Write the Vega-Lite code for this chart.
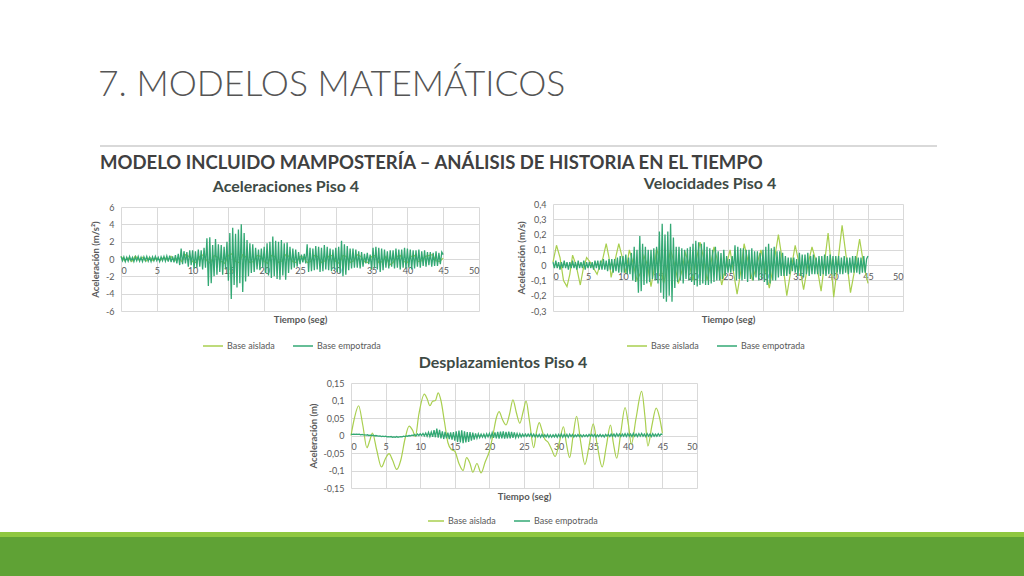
{
"$schema": "https://vega.github.io/schema/vega-lite/v6.json",
"padding": 0,
"background": "white",
"bounds": "flush",
"spacing": 0,
"resolve": {"scale": {"color": "independent"}},
"config": {
  "font": "Lato",
  "view": {"stroke": null},
  "axis": {"labelFont": "Lato", "labelFontSize": 9, "labelColor": "#595959", "titleFont": "Lato", "titleFontSize": 9.5, "titleFontWeight": "bold", "titleColor": "#595959", "gridColor": "#d9d9d9", "gridWidth": 1, "domain": false, "ticks": false, "labelPadding": 7},
  "legend": {"orient": "none", "direction": "horizontal", "symbolType": "stroke", "symbolSize": 400, "symbolStrokeWidth": 1.5, "labelFont": "Lato", "labelFontSize": 9, "labelColor": "#595959", "labelOffset": 3, "columnPadding": 15, "title": null},
  "title": {"font": "Lato", "fontSize": 16, "fontWeight": "bold", "color": "#3e4a45", "offset": 8}
},
"datasets": {
"aa": [{"t":0,"y":0.3},{"t":0.5,"y":-0.2},{"t":1,"y":0.1},{"t":1.5,"y":-0.3},{"t":2,"y":0.35},{"t":2.5,"y":-0.1},{"t":3,"y":0.2},{"t":3.5,"y":-0.25},{"t":4,"y":0.2},{"t":4.5,"y":-0.2},{"t":5,"y":0.1},{"t":5.5,"y":-0.15},{"t":6,"y":0.2},{"t":6.5,"y":-0.1},{"t":7,"y":0.3},{"t":7.5,"y":-0.2},{"t":8,"y":0.2},{"t":8.5,"y":-0.3},{"t":9,"y":0.5},{"t":9.5,"y":0.3},{"t":10,"y":-0.3},{"t":10.5,"y":-0.4},{"t":11,"y":0.3},{"t":11.5,"y":0.5},{"t":12,"y":-0.2},{"t":12.5,"y":-0.5},{"t":13,"y":0.4},{"t":13.5,"y":0.2},{"t":14,"y":-0.3},{"t":14.5,"y":-0.5},{"t":15,"y":0.4},{"t":15.5,"y":0.6},{"t":16,"y":-0.3},{"t":16.5,"y":-0.4},{"t":17,"y":0.5},{"t":17.5,"y":0.2},{"t":18,"y":-0.4},{"t":18.5,"y":-0.3},{"t":19,"y":0.4},{"t":19.5,"y":0.3},{"t":20,"y":-0.3},{"t":20.5,"y":-0.5},{"t":21,"y":0.4},{"t":21.5,"y":0.3},{"t":22,"y":-0.4},{"t":22.5,"y":-0.2},{"t":23,"y":0.5},{"t":23.5,"y":0.3},{"t":24,"y":-0.3},{"t":24.5,"y":-0.4},{"t":25,"y":0.3},{"t":25.5,"y":0.2},{"t":26,"y":-0.4},{"t":26.5,"y":-0.3},{"t":27,"y":0.4},{"t":27.5,"y":0.3},{"t":28,"y":-0.4},{"t":28.5,"y":-0.2},{"t":29,"y":0.3},{"t":29.5,"y":0.4},{"t":30,"y":-0.3},{"t":30.5,"y":-0.5},{"t":31,"y":0.4},{"t":31.5,"y":0.3},{"t":32,"y":-0.4},{"t":32.5,"y":-0.2},{"t":33,"y":0.5},{"t":33.5,"y":0.3},{"t":34,"y":-0.3},{"t":34.5,"y":-0.4},{"t":35,"y":0.3},{"t":35.5,"y":0.4},{"t":36,"y":-0.4},{"t":36.5,"y":-0.3},{"t":37,"y":0.3},{"t":37.5,"y":-0.7},{"t":38,"y":-0.4},{"t":38.5,"y":0.3},{"t":39,"y":0.4},{"t":39.5,"y":-0.3},{"t":40,"y":-0.4},{"t":40.5,"y":0.3},{"t":41,"y":0.4},{"t":41.5,"y":-0.3},{"t":42,"y":-0.2},{"t":42.5,"y":0.3},{"t":43,"y":0.4},{"t":43.5,"y":0.5},{"t":44,"y":-0.2},{"t":44.5,"y":-0.3},{"t":45,"y":0.1}],
"ae": [{"t":0,"y":0.3},{"t":0.2,"y":-0.2},{"t":0.4,"y":0.25},{"t":0.6,"y":-0.3},{"t":0.8,"y":0.2},
{"t":1,"y":-0.25},{"t":1.2,"y":0.3},{"t":1.4,"y":-0.2},{"t":1.6,"y":0.2},{"t":1.8,"y":-0.3},
{"t":2,"y":0.25},{"t":2.2,"y":-0.2},{"t":2.4,"y":0.3},{"t":2.6,"y":-0.25},{"t":2.8,"y":0.2},
{"t":3,"y":-0.3},{"t":3.2,"y":0.25},{"t":3.4,"y":-0.2},{"t":3.6,"y":0.3},{"t":3.8,"y":-0.25},
{"t":4,"y":0.2},{"t":4.2,"y":-0.3},{"t":4.4,"y":0.25},{"t":4.6,"y":-0.2},{"t":4.8,"y":0.3},
{"t":5,"y":-0.2},{"t":5.2,"y":0.2},{"t":5.4,"y":-0.3},{"t":5.6,"y":0.25},{"t":5.8,"y":-0.2},
{"t":6,"y":0.3},{"t":6.2,"y":-0.25},{"t":6.4,"y":0.35},{"t":6.6,"y":-0.3},{"t":6.8,"y":0.4},
{"t":7,"y":-0.35},{"t":7.2,"y":0.3},{"t":7.4,"y":-0.4},{"t":7.6,"y":0.45},{"t":7.8,"y":-0.5},
{"t":8,"y":0.6},{"t":8.2,"y":-0.7},{"t":8.4,"y":1.2},{"t":8.6,"y":-0.6},{"t":8.8,"y":0.9},
{"t":9,"y":-0.5},{"t":9.2,"y":0.8},{"t":9.4,"y":-0.9},{"t":9.6,"y":1},{"t":9.8,"y":-0.7},
{"t":10,"y":1},{"t":10.2,"y":-1.1},{"t":10.4,"y":0.9},{"t":10.6,"y":-1},{"t":10.8,"y":1.1},
{"t":11,"y":-0.9},{"t":11.2,"y":1},{"t":11.4,"y":-1.2},{"t":11.6,"y":1.3},{"t":11.8,"y":-1},
{"t":12,"y":2.4},{"t":12.2,"y":-3.1},{"t":12.4,"y":2.5},{"t":12.6,"y":-2.8},{"t":12.8,"y":1.6},
{"t":13,"y":-2},{"t":13.2,"y":2.3},{"t":13.4,"y":-1.8},{"t":13.6,"y":1.7},{"t":13.8,"y":-1.5},
{"t":14,"y":1.6},{"t":14.2,"y":-1.8},{"t":14.4,"y":1.4},{"t":14.6,"y":-1.2},{"t":14.8,"y":2},
{"t":15,"y":-2.5},{"t":15.2,"y":3},{"t":15.4,"y":-4.6},{"t":15.6,"y":3.6},{"t":15.8,"y":-3},
{"t":16,"y":2.9},{"t":16.2,"y":-3.3},{"t":16.4,"y":3.4},{"t":16.6,"y":-2.8},{"t":16.8,"y":4},
{"t":17,"y":-3.8},{"t":17.2,"y":3},{"t":17.4,"y":-2.6},{"t":17.6,"y":2.2},{"t":17.8,"y":-2},
{"t":18,"y":1.8},{"t":18.2,"y":-1.6},{"t":18.4,"y":1.7},{"t":18.6,"y":-1.5},{"t":18.8,"y":1.3},
{"t":19,"y":-1.2},{"t":19.2,"y":1.1},{"t":19.4,"y":-1.3},{"t":19.6,"y":1.2},{"t":19.8,"y":-1},
{"t":20,"y":1.4},{"t":20.2,"y":-1.6},{"t":20.4,"y":1.8},{"t":20.6,"y":-1.9},{"t":20.8,"y":2},
{"t":21,"y":-2.2},{"t":21.2,"y":2.6},{"t":21.4,"y":-2},{"t":21.6,"y":2.1},{"t":21.8,"y":-2.3},
{"t":22,"y":2},{"t":22.2,"y":-2.4},{"t":22.4,"y":2.2},{"t":22.6,"y":-1.9},{"t":22.8,"y":1.8},
{"t":23,"y":-2.4},{"t":23.2,"y":1.9},{"t":23.4,"y":-1.6},{"t":23.6,"y":1.4},{"t":23.8,"y":-1.2},
{"t":24,"y":1.2},{"t":24.2,"y":-1},{"t":24.4,"y":1.1},{"t":24.6,"y":-0.9},{"t":24.8,"y":0.8},
{"t":25,"y":-0.6},{"t":25.2,"y":0.5},{"t":25.4,"y":-0.4},{"t":25.6,"y":0.6},{"t":25.8,"y":-0.5},
{"t":26,"y":1.7},{"t":26.2,"y":-1.5},{"t":26.4,"y":1.3},{"t":26.6,"y":-1.4},{"t":26.8,"y":1.2},
{"t":27,"y":-1.3},{"t":27.2,"y":1.5},{"t":27.4,"y":-1.2},{"t":27.6,"y":1.4},{"t":27.8,"y":-1.5},
{"t":28,"y":1.3},{"t":28.2,"y":-1.4},{"t":28.4,"y":1.6},{"t":28.6,"y":-1.2},{"t":28.8,"y":1.4},
{"t":29,"y":-1.3},{"t":29.2,"y":1.2},{"t":29.4,"y":-1.4},{"t":29.6,"y":1.1},{"t":29.8,"y":-1.2},
{"t":30,"y":1.3},{"t":30.2,"y":-1.5},{"t":30.4,"y":1.4},{"t":30.6,"y":-1.6},{"t":30.8,"y":2.1},
{"t":31,"y":-2},{"t":31.2,"y":1.7},{"t":31.4,"y":-1.8},{"t":31.6,"y":1.5},{"t":31.8,"y":-1.3},
{"t":32,"y":1.2},{"t":32.2,"y":-1.1},{"t":32.4,"y":1.2},{"t":32.6,"y":-1},{"t":32.8,"y":1.1},
{"t":33,"y":-1},{"t":33.2,"y":0.9},{"t":33.4,"y":-1.1},{"t":33.6,"y":0.8},{"t":33.8,"y":-0.9},
{"t":34,"y":0.6},{"t":34.2,"y":-0.5},{"t":34.4,"y":0.7},{"t":34.6,"y":-0.6},{"t":34.8,"y":0.5},
{"t":35,"y":-1.2},{"t":35.2,"y":1.3},{"t":35.4,"y":-1.1},{"t":35.6,"y":1.4},{"t":35.8,"y":-1.2},
{"t":36,"y":1.3},{"t":36.2,"y":-1.5},{"t":36.4,"y":1.2},{"t":36.6,"y":-1.3},{"t":36.8,"y":1.1},
{"t":37,"y":-1},{"t":37.2,"y":0.9},{"t":37.4,"y":-1.1},{"t":37.6,"y":1},{"t":37.8,"y":-0.9},
{"t":38,"y":1},{"t":38.2,"y":-1.1},{"t":38.4,"y":1.2},{"t":38.6,"y":-1},{"t":38.8,"y":1.1},
{"t":39,"y":-1.2},{"t":39.2,"y":1.1},{"t":39.4,"y":-1},{"t":39.6,"y":1.3},{"t":39.8,"y":-1.1},
{"t":40,"y":1.2},{"t":40.2,"y":-1},{"t":40.4,"y":1.1},{"t":40.6,"y":-1.2},{"t":40.8,"y":1},
{"t":41,"y":-1.1},{"t":41.2,"y":1},{"t":41.4,"y":-0.9},{"t":41.6,"y":1.1},{"t":41.8,"y":-1},
{"t":42,"y":0.9},{"t":42.2,"y":-0.8},{"t":42.4,"y":1},{"t":42.6,"y":-0.9},{"t":42.8,"y":0.8},
{"t":43,"y":-0.7},{"t":43.2,"y":0.8},{"t":43.4,"y":-0.9},{"t":43.6,"y":0.7},{"t":43.8,"y":-0.8},
{"t":44,"y":0.9},{"t":44.2,"y":-0.8},{"t":44.4,"y":0.7},{"t":44.6,"y":-0.6},{"t":44.8,"y":0.8},
{"t":45,"y":0.5}],
"va": [{"t":0,"y":0.02},{"t":0.5,"y":0.13},{"t":1,"y":0.05},{"t":1.5,"y":-0.1},{"t":2,"y":-0.14},{"t":2.4,"y":-0.06},{"t":2.8,"y":0.065},{"t":3.3,"y":0},{"t":3.9,"y":-0.13},{"t":4.3,"y":-0.03},{"t":4.8,"y":0.05},{"t":5.3,"y":0.02},{"t":5.8,"y":-0.02},{"t":6.3,"y":-0.06},{"t":6.7,"y":0},{"t":7.1,"y":0.04},{"t":7.6,"y":0.14},{"t":8,"y":0.05},{"t":8.3,"y":-0.08},{"t":8.8,"y":0.02},{"t":9.4,"y":0.14},{"t":9.9,"y":0.05},{"t":10.4,"y":-0.05},{"t":10.9,"y":0.1},{"t":11.4,"y":0.02},{"t":12,"y":-0.1},{"t":12.5,"y":-0.05},{"t":13,"y":0.06},{"t":13.5,"y":0},{"t":14,"y":-0.14},{"t":14.4,"y":-0.04},{"t":14.8,"y":0.11},{"t":15.3,"y":0.02},{"t":15.8,"y":-0.12},{"t":16.3,"y":-0.02},{"t":16.8,"y":0.1},{"t":17.4,"y":0},{"t":17.9,"y":-0.12},{"t":18.4,"y":-0.04},{"t":18.9,"y":0.08},{"t":19.5,"y":0},{"t":20,"y":-0.1},{"t":20.5,"y":0.04},{"t":21,"y":0.15},{"t":21.5,"y":0.05},{"t":22,"y":-0.1},{"t":22.5,"y":0},{"t":23,"y":0.12},{"t":23.5,"y":0.03},{"t":24.1,"y":-0.13},{"t":24.6,"y":-0.03},{"t":25.3,"y":0.1},{"t":25.8,"y":-0.05},{"t":26.3,"y":-0.19},{"t":26.8,"y":-0.05},{"t":27.3,"y":0.14},{"t":27.9,"y":0.02},{"t":28.5,"y":-0.1},{"t":29.1,"y":0},{"t":29.7,"y":0.1},{"t":30.3,"y":-0.02},{"t":30.9,"y":-0.15},{"t":31.5,"y":0},{"t":32.2,"y":0.2},{"t":32.8,"y":0.02},{"t":33.4,"y":-0.2},{"t":34,"y":-0.03},{"t":34.6,"y":0.13},{"t":35.2,"y":0},{"t":35.8,"y":-0.16},{"t":36.4,"y":0},{"t":37,"y":0.12},{"t":37.6,"y":0.02},{"t":38.3,"y":-0.17},{"t":38.8,"y":0.02},{"t":39.3,"y":0.21},{"t":39.7,"y":0.02},{"t":40.1,"y":-0.21},{"t":40.7,"y":0.02},{"t":41.3,"y":0.26},{"t":41.9,"y":0.05},{"t":42.5,"y":-0.18},{"t":43.1,"y":-0.03},{"t":43.8,"y":0.17},{"t":44.4,"y":0},{"t":45,"y":-0.12}],
"ve": [{"t":0,"y":0.02},{"t":0.2,"y":-0.02},{"t":0.4,"y":0.03},{"t":0.6,"y":-0.02},{"t":0.8,"y":0.02},
{"t":1,"y":-0.03},{"t":1.2,"y":0.02},{"t":1.4,"y":-0.02},{"t":1.6,"y":0.03},{"t":1.8,"y":-0.02},
{"t":2,"y":0.02},{"t":2.2,"y":-0.03},{"t":2.4,"y":0.02},{"t":2.6,"y":-0.02},{"t":2.8,"y":0.03},
{"t":3,"y":-0.02},{"t":3.2,"y":0.02},{"t":3.4,"y":-0.03},{"t":3.6,"y":0.03},{"t":3.8,"y":-0.02},
{"t":4,"y":0.02},{"t":4.2,"y":-0.02},{"t":4.4,"y":0.03},{"t":4.6,"y":-0.03},{"t":4.8,"y":0.02},
{"t":5,"y":-0.02},{"t":5.2,"y":0.02},{"t":5.4,"y":-0.02},{"t":5.6,"y":0.02},{"t":5.8,"y":-0.03},
{"t":6,"y":0.03},{"t":6.2,"y":-0.02},{"t":6.4,"y":0.03},{"t":6.6,"y":-0.03},{"t":6.8,"y":0.03},
{"t":7,"y":-0.03},{"t":7.2,"y":0.04},{"t":7.4,"y":-0.03},{"t":7.6,"y":0.03},{"t":7.8,"y":-0.04},
{"t":8,"y":0.04},{"t":8.2,"y":-0.03},{"t":8.4,"y":0.04},{"t":8.6,"y":-0.05},{"t":8.8,"y":0.04},
{"t":9,"y":-0.04},{"t":9.2,"y":0.05},{"t":9.4,"y":-0.05},{"t":9.6,"y":0.06},{"t":9.8,"y":-0.05},
{"t":10,"y":0.06},{"t":10.2,"y":-0.05},{"t":10.4,"y":0.07},{"t":10.6,"y":-0.06},{"t":10.8,"y":0.05},
{"t":11,"y":-0.06},{"t":11.2,"y":0.08},{"t":11.4,"y":-0.1},{"t":11.6,"y":0.12},{"t":11.8,"y":-0.11},
{"t":12,"y":0.1},{"t":12.2,"y":-0.18},{"t":12.4,"y":0.19},{"t":12.6,"y":-0.17},{"t":12.8,"y":0.14},
{"t":13,"y":-0.13},{"t":13.2,"y":0.12},{"t":13.4,"y":-0.12},{"t":13.6,"y":0.1},{"t":13.8,"y":-0.11},
{"t":14,"y":0.1},{"t":14.2,"y":-0.09},{"t":14.4,"y":0.11},{"t":14.6,"y":-0.1},{"t":14.8,"y":0.12},
{"t":15,"y":-0.12},{"t":15.2,"y":0.22},{"t":15.4,"y":-0.18},{"t":15.6,"y":0.27},{"t":15.8,"y":-0.22},
{"t":16,"y":0.2},{"t":16.2,"y":-0.24},{"t":16.4,"y":0.22},{"t":16.6,"y":-0.2},{"t":16.8,"y":0.27},
{"t":17,"y":-0.24},{"t":17.2,"y":0.18},{"t":17.4,"y":-0.15},{"t":17.6,"y":0.12},{"t":17.8,"y":-0.11},
{"t":18,"y":0.12},{"t":18.2,"y":-0.1},{"t":18.4,"y":0.11},{"t":18.6,"y":-0.12},{"t":18.8,"y":0.1},
{"t":19,"y":-0.09},{"t":19.2,"y":0.11},{"t":19.4,"y":-0.1},{"t":19.6,"y":0.12},{"t":19.8,"y":-0.11},
{"t":20,"y":0.14},{"t":20.2,"y":-0.13},{"t":20.4,"y":0.16},{"t":20.6,"y":-0.14},{"t":20.8,"y":0.15},
{"t":21,"y":-0.13},{"t":21.2,"y":0.14},{"t":21.4,"y":-0.12},{"t":21.6,"y":0.15},{"t":21.8,"y":-0.13},
{"t":22,"y":0.12},{"t":22.2,"y":-0.13},{"t":22.4,"y":0.11},{"t":22.6,"y":-0.12},{"t":22.8,"y":0.1},
{"t":23,"y":-0.11},{"t":23.2,"y":0.12},{"t":23.4,"y":-0.1},{"t":23.6,"y":0.09},{"t":23.8,"y":-0.1},
{"t":24,"y":0.08},{"t":24.2,"y":-0.09},{"t":24.4,"y":0.1},{"t":24.6,"y":-0.07},{"t":24.8,"y":0.06},
{"t":25,"y":-0.05},{"t":25.2,"y":0.04},{"t":25.4,"y":-0.05},{"t":25.6,"y":0.06},{"t":25.8,"y":-0.04},
{"t":26,"y":0.13},{"t":26.2,"y":-0.1},{"t":26.4,"y":0.12},{"t":26.6,"y":-0.09},{"t":26.8,"y":0.11},
{"t":27,"y":-0.1},{"t":27.2,"y":0.11},{"t":27.4,"y":-0.09},{"t":27.6,"y":0.1},{"t":27.8,"y":-0.11},
{"t":28,"y":0.1},{"t":28.2,"y":-0.09},{"t":28.4,"y":0.11},{"t":28.6,"y":-0.1},{"t":28.8,"y":0.09},
{"t":29,"y":-0.08},{"t":29.2,"y":0.09},{"t":29.4,"y":-0.1},{"t":29.6,"y":0.08},{"t":29.8,"y":-0.09},
{"t":30,"y":0.1},{"t":30.2,"y":-0.11},{"t":30.4,"y":0.12},{"t":30.6,"y":-0.13},{"t":30.8,"y":0.14},
{"t":31,"y":-0.12},{"t":31.2,"y":0.11},{"t":31.4,"y":-0.1},{"t":31.6,"y":0.12},{"t":31.8,"y":-0.1},
{"t":32,"y":0.09},{"t":32.2,"y":-0.08},{"t":32.4,"y":0.09},{"t":32.6,"y":-0.07},{"t":32.8,"y":0.08},
{"t":33,"y":-0.07},{"t":33.2,"y":0.06},{"t":33.4,"y":-0.07},{"t":33.6,"y":0.05},{"t":33.8,"y":-0.06},
{"t":34,"y":0.05},{"t":34.2,"y":-0.04},{"t":34.4,"y":0.05},{"t":34.6,"y":-0.05},{"t":34.8,"y":0.04},
{"t":35,"y":-0.07},{"t":35.2,"y":0.08},{"t":35.4,"y":-0.07},{"t":35.6,"y":0.07},{"t":35.8,"y":-0.08},
{"t":36,"y":0.07},{"t":36.2,"y":-0.06},{"t":36.4,"y":0.08},{"t":36.6,"y":-0.07},{"t":36.8,"y":0.06},
{"t":37,"y":-0.06},{"t":37.2,"y":0.07},{"t":37.4,"y":-0.06},{"t":37.6,"y":0.05},{"t":37.8,"y":-0.06},
{"t":38,"y":0.06},{"t":38.2,"y":-0.07},{"t":38.4,"y":0.06},{"t":38.6,"y":-0.06},{"t":38.8,"y":0.07},
{"t":39,"y":-0.07},{"t":39.2,"y":0.06},{"t":39.4,"y":-0.06},{"t":39.6,"y":0.07},{"t":39.8,"y":-0.06},
{"t":40,"y":0.06},{"t":40.2,"y":-0.07},{"t":40.4,"y":0.06},{"t":40.6,"y":-0.05},{"t":40.8,"y":0.06},
{"t":41,"y":-0.06},{"t":41.2,"y":0.05},{"t":41.4,"y":-0.06},{"t":41.6,"y":0.06},{"t":41.8,"y":-0.05},
{"t":42,"y":0.05},{"t":42.2,"y":-0.06},{"t":42.4,"y":0.05},{"t":42.6,"y":-0.05},{"t":42.8,"y":0.06},
{"t":43,"y":-0.05},{"t":43.2,"y":0.06},{"t":43.4,"y":-0.05},{"t":43.6,"y":0.05},{"t":43.8,"y":-0.06},
{"t":44,"y":0.05},{"t":44.2,"y":-0.05},{"t":44.4,"y":0.06},{"t":44.6,"y":-0.05},{"t":44.8,"y":0.04},
{"t":45,"y":0.06}],
"da": [{"t":0,"y":0},{"t":0.5,"y":0.05},{"t":1.1,"y":0.085},{"t":1.7,"y":0.03},{"t":2.3,"y":-0.035},{"t":2.7,"y":-0.015},{"t":3.1,"y":0.007},{"t":3.7,"y":-0.04},{"t":4.4,"y":-0.09},{"t":5,"y":-0.065},{"t":5.5,"y":-0.052},{"t":6,"y":-0.07},{"t":6.6,"y":-0.097},{"t":7.2,"y":-0.07},{"t":7.8,"y":-0.01},{"t":8.4,"y":0.027},{"t":8.9,"y":0.015},{"t":9.3,"y":-0.003},{"t":9.8,"y":0.06},{"t":10.6,"y":0.118},{"t":11,"y":0.105},{"t":11.4,"y":0.085},{"t":11.8,"y":0.098},{"t":12.2,"y":0.1},{"t":12.6,"y":0.122},{"t":13,"y":0.1},{"t":13.5,"y":0.04},{"t":14,"y":-0.02},{"t":14.5,"y":-0.04},{"t":15,"y":-0.045},{"t":15.6,"y":-0.08},{"t":16.2,"y":-0.1},{"t":16.7,"y":-0.063},{"t":17.2,"y":-0.08},{"t":17.6,"y":-0.105},{"t":18.2,"y":-0.08},{"t":18.8,"y":-0.107},{"t":19.4,"y":-0.075},{"t":20,"y":-0.045},{"t":20.5,"y":0},{"t":21,"y":0.05},{"t":21.4,"y":0.068},{"t":21.9,"y":0.045},{"t":22.4,"y":0.03},{"t":22.9,"y":0.06},{"t":23.4,"y":0.102},{"t":23.9,"y":0.065},{"t":24.4,"y":0.035},{"t":24.9,"y":0.07},{"t":25.3,"y":0.098},{"t":25.8,"y":0.04},{"t":26.4,"y":-0.035},{"t":26.8,"y":0.01},{"t":27.2,"y":0.037},{"t":27.6,"y":0.015},{"t":28,"y":-0.01},{"t":28.5,"y":-0.02},{"t":29,"y":-0.04},{"t":29.5,"y":-0.06},{"t":30.1,"y":-0.02},{"t":30.7,"y":0.025},{"t":31.1,"y":-0.02},{"t":31.6,"y":-0.063},{"t":32.1,"y":0},{"t":32.6,"y":0.055},{"t":33.2,"y":-0.02},{"t":33.8,"y":-0.083},{"t":34.4,"y":-0.03},{"t":35,"y":0.033},{"t":35.6,"y":-0.03},{"t":36.3,"y":-0.09},{"t":36.9,"y":-0.03},{"t":37.5,"y":0.03},{"t":37.9,"y":-0.02},{"t":38.4,"y":-0.065},{"t":39,"y":0.01},{"t":39.6,"y":0.08},{"t":40.1,"y":0.03},{"t":40.5,"y":-0.025},{"t":41.2,"y":0.05},{"t":42,"y":0.126},{"t":42.5,"y":0.05},{"t":42.9,"y":-0.03},{"t":43.5,"y":0.03},{"t":44.1,"y":0.078},{"t":44.6,"y":0.05},{"t":45,"y":0.007}],
"de": [{"t":0,"y":0.004},{"t":0.2,"y":0.003},{"t":0.4,"y":0.004},{"t":0.6,"y":0.003},{"t":0.8,"y":0.004},
{"t":1,"y":0.003},{"t":1.2,"y":0.004},{"t":1.4,"y":0.002},{"t":1.6,"y":0.003},{"t":1.8,"y":0.002},
{"t":2,"y":0.002},{"t":2.2,"y":0.001},{"t":2.4,"y":0.002},{"t":2.6,"y":0},{"t":2.8,"y":0.001},
{"t":3,"y":0},{"t":3.2,"y":0.001},{"t":3.4,"y":-0.001},{"t":3.6,"y":0},{"t":3.8,"y":-0.001},
{"t":4,"y":-0.002},{"t":4.2,"y":-0.001},{"t":4.4,"y":-0.003},{"t":4.6,"y":-0.002},{"t":4.8,"y":-0.003},
{"t":5,"y":-0.002},{"t":5.2,"y":-0.004},{"t":5.4,"y":-0.003},{"t":5.6,"y":-0.004},{"t":5.8,"y":-0.003},
{"t":6,"y":-0.005},{"t":6.2,"y":-0.004},{"t":6.4,"y":-0.005},{"t":6.6,"y":-0.003},{"t":6.8,"y":-0.005},
{"t":7,"y":-0.004},{"t":7.2,"y":-0.003},{"t":7.4,"y":-0.004},{"t":7.6,"y":-0.002},{"t":7.8,"y":-0.003},
{"t":8,"y":-0.001},{"t":8.2,"y":-0.002},{"t":8.4,"y":0},{"t":8.6,"y":-0.001},{"t":8.8,"y":0.001},
{"t":9,"y":0},{"t":9.2,"y":0.003},{"t":9.4,"y":-0.001},{"t":9.6,"y":0.004},{"t":9.8,"y":0},
{"t":10,"y":0.005},{"t":10.2,"y":0},{"t":10.4,"y":0.006},{"t":10.6,"y":-0.001},{"t":10.8,"y":0.007},
{"t":11,"y":-0.002},{"t":11.2,"y":0.009},{"t":11.4,"y":-0.003},{"t":11.6,"y":0.01},{"t":11.8,"y":-0.004},
{"t":12,"y":0.015},{"t":12.2,"y":-0.005},{"t":12.4,"y":0.02},{"t":12.6,"y":-0.006},{"t":12.8,"y":0.016},
{"t":13,"y":-0.008},{"t":13.2,"y":0.012},{"t":13.4,"y":-0.01},{"t":13.6,"y":0.01},{"t":13.8,"y":-0.008},
{"t":14,"y":0.008},{"t":14.2,"y":-0.01},{"t":14.4,"y":0.009},{"t":14.6,"y":-0.012},{"t":14.8,"y":0.01},
{"t":15,"y":-0.015},{"t":15.2,"y":0.012},{"t":15.4,"y":-0.018},{"t":15.6,"y":0.014},{"t":15.8,"y":-0.02},
{"t":16,"y":0.015},{"t":16.2,"y":-0.022},{"t":16.4,"y":0.012},{"t":16.6,"y":-0.02},{"t":16.8,"y":0.01},
{"t":17,"y":-0.018},{"t":17.2,"y":0.01},{"t":17.4,"y":-0.015},{"t":17.6,"y":0.008},{"t":17.8,"y":-0.012},
{"t":18,"y":0.006},{"t":18.2,"y":-0.008},{"t":18.4,"y":0.005},{"t":18.6,"y":-0.006},{"t":18.8,"y":0.004},
{"t":19,"y":-0.005},{"t":19.2,"y":0.004},{"t":19.4,"y":-0.006},{"t":19.6,"y":0.005},{"t":19.8,"y":-0.004},
{"t":20,"y":0.006},{"t":20.2,"y":-0.006},{"t":20.4,"y":0.008},{"t":20.6,"y":-0.007},{"t":20.8,"y":0.009},
{"t":21,"y":-0.008},{"t":21.2,"y":0.01},{"t":21.4,"y":-0.009},{"t":21.6,"y":0.011},{"t":21.8,"y":-0.008},
{"t":22,"y":0.012},{"t":22.2,"y":-0.009},{"t":22.4,"y":0.01},{"t":22.6,"y":-0.008},{"t":22.8,"y":0.011},
{"t":23,"y":-0.008},{"t":23.2,"y":0.01},{"t":23.4,"y":-0.007},{"t":23.6,"y":0.009},{"t":23.8,"y":-0.006},
{"t":24,"y":0.006},{"t":24.2,"y":-0.005},{"t":24.4,"y":0.005},{"t":24.6,"y":-0.004},{"t":24.8,"y":0.004},
{"t":25,"y":-0.003},{"t":25.2,"y":0.004},{"t":25.4,"y":-0.003},{"t":25.6,"y":0.004},{"t":25.8,"y":-0.002},
{"t":26,"y":0.005},{"t":26.2,"y":-0.003},{"t":26.4,"y":0.004},{"t":26.6,"y":-0.004},{"t":26.8,"y":0.003},
{"t":27,"y":-0.004},{"t":27.2,"y":0.003},{"t":27.4,"y":-0.005},{"t":27.6,"y":0.003},{"t":27.8,"y":-0.004},
{"t":28,"y":0.002},{"t":28.2,"y":-0.004},{"t":28.4,"y":0.003},{"t":28.6,"y":-0.005},{"t":28.8,"y":0.002},
{"t":29,"y":-0.005},{"t":29.2,"y":0.002},{"t":29.4,"y":-0.004},{"t":29.6,"y":0.003},{"t":29.8,"y":-0.005},
{"t":30,"y":0.003},{"t":30.2,"y":-0.004},{"t":30.4,"y":0.004},{"t":30.6,"y":-0.005},{"t":30.8,"y":0.003},
{"t":31,"y":-0.004},{"t":31.2,"y":0.003},{"t":31.4,"y":-0.005},{"t":31.6,"y":0.004},{"t":31.8,"y":-0.003},
{"t":32,"y":0.003},{"t":32.2,"y":-0.004},{"t":32.4,"y":0.002},{"t":32.6,"y":-0.003},{"t":32.8,"y":0.003},
{"t":33,"y":-0.003},{"t":33.2,"y":0.002},{"t":33.4,"y":-0.004},{"t":33.6,"y":0.002},{"t":33.8,"y":-0.003},
{"t":34,"y":0.002},{"t":34.2,"y":-0.003},{"t":34.4,"y":0.003},{"t":34.6,"y":-0.002},{"t":34.8,"y":0.003},
{"t":35,"y":-0.003},{"t":35.2,"y":0.003},{"t":35.4,"y":-0.004},{"t":35.6,"y":0.002},{"t":35.8,"y":-0.003},
{"t":36,"y":0.003},{"t":36.2,"y":-0.003},{"t":36.4,"y":0.002},{"t":36.6,"y":-0.004},{"t":36.8,"y":0.003},
{"t":37,"y":-0.002},{"t":37.2,"y":0.003},{"t":37.4,"y":-0.003},{"t":37.6,"y":0.004},{"t":37.8,"y":-0.002},
{"t":38,"y":0.004},{"t":38.2,"y":-0.003},{"t":38.4,"y":0.005},{"t":38.6,"y":-0.002},{"t":38.8,"y":0.004},
{"t":39,"y":-0.003},{"t":39.2,"y":0.004},{"t":39.4,"y":-0.002},{"t":39.6,"y":0.005},{"t":39.8,"y":-0.003},
{"t":40,"y":0.005},{"t":40.2,"y":-0.002},{"t":40.4,"y":0.004},{"t":40.6,"y":-0.003},{"t":40.8,"y":0.006},
{"t":41,"y":-0.002},{"t":41.2,"y":0.004},{"t":41.4,"y":-0.003},{"t":41.6,"y":0.005},{"t":41.8,"y":-0.002},
{"t":42,"y":0.006},{"t":42.2,"y":-0.002},{"t":42.4,"y":0.004},{"t":42.6,"y":-0.003},{"t":42.8,"y":0.005},
{"t":43,"y":-0.002},{"t":43.2,"y":0.004},{"t":43.4,"y":-0.003},{"t":43.6,"y":0.005},{"t":43.8,"y":-0.002},
{"t":44,"y":0.004},{"t":44.2,"y":-0.002},{"t":44.4,"y":0.005},{"t":44.6,"y":-0.001},{"t":44.8,"y":0.004},
{"t":45,"y":0.003}]
},
"vconcat": [
  {"data": {"values": []}, "mark": "point", "width": 1024, "height": 145},
  {"hconcat": [
    {"data": {"values": []}, "mark": "point", "width": 100, "height": 2},
    {"data": {"values": []}, "mark": "point", "width": 837, "height": 2, "view": {"fill": "#d9d9d9", "stroke": null},
     "title": {"text": "7. MODELOS MATEMÁTICOS", "anchor": "start", "font": "Lato", "fontSize": 35.5, "fontWeight": 300, "color": "#555555", "offset": 42, "dx": -2}}
  ], "spacing": 0, "bounds": "flush"},
  {"data": {"values": []}, "mark": "point", "width": 1024, "height": 2},
  {"data": {"values": []}, "mark": "point", "width": 1024, "height": 26},
  {"hconcat": [
    {"data": {"values": []}, "mark": "point", "width": 100, "height": 1},
    {"data": {"values": []}, "mark": "point", "width": 837, "height": 1,
     "title": {"text": "MODELO INCLUIDO MAMPOSTERÍA – ANÁLISIS DE HISTORIA EN EL TIEMPO", "anchor": "start", "font": "Lato", "fontSize": 18.5, "fontWeight": "bold", "color": "#404040", "offset": 1}}
  ], "spacing": 0, "bounds": "flush"},
  {"data": {"values": []}, "mark": "point", "width": 1024, "height": 31},
  {"hconcat": [
    {"data": {"values": []}, "mark": "point", "width": 553, "height": 1},
    {
      "width": 350, "height": 107,
      "title": {"text": "Velocidades Piso 4", "dx": -18},
      "encoding": {
        "x": {"field": "t", "type": "quantitative", "scale": {"domain": [0, 50], "nice": false, "zero": false},
              "axis": {"values": [0,5,10,15,20,25,30,35,40,45,50], "offset": -45.9, "title": "Tiempo (seg)", "titleY": 53.9, "titleBaseline": "middle"}},
        "y": {"field": "y", "type": "quantitative", "scale": {"domain": [-0.3, 0.4], "nice": false, "zero": false},
              "axis": {"values": [-0.3,-0.2,-0.1,0,0.1,0.2,0.3,0.4], "title": "Aceleración (m/s)", "titleX": -32, "titleY": 53.5, "titleAngle": -90, "titleBaseline": "middle", "titleAlign": "center",
                       "labelExpr": "replace(replace(format(datum.value, '~g'), '.', ','), '−', '-')"}}
      },
      "layer": [
        {"data": {"name": "va"}, "mark": {"type": "line", "strokeWidth": 1.2},
         "encoding": {"color": {"datum": "Base aislada", "type": "nominal", "scale": {"domain": ["Base aislada", "Base empotrada"], "range": ["#a9cf4f", "#33a874"]}, "legend": {"legendX": 73, "legendY": 131}}}},
        {"data": {"name": "ve"}, "mark": {"type": "line", "strokeWidth": 1.3},
         "encoding": {"color": {"datum": "Base empotrada", "type": "nominal"}}}
      ]
    }
  ], "spacing": 0, "bounds": "flush", "resolve": {"scale": {"color": "independent"}}},
  {"data": {"values": []}, "mark": "point", "width": 1024, "height": 3},
  {"hconcat": [
    {"data": {"values": []}, "mark": "point", "width": 121, "height": 1},
    {
      "width": 358, "height": 104,
      "title": {"text": "Aceleraciones Piso 4", "dx": -14},
      "encoding": {
        "x": {"field": "t", "type": "quantitative", "scale": {"domain": [0, 50], "nice": false, "zero": false},
              "axis": {"values": [0,5,10,15,20,25,30,35,40,45,50], "offset": -52, "title": "Tiempo (seg)", "titleY": 60, "titleBaseline": "middle"}},
        "y": {"field": "y", "type": "quantitative", "scale": {"domain": [-6, 6], "nice": false},
              "axis": {"values": [-6,-4,-2,0,2,4,6], "title": "Aceleración (m/s²)", "titleX": -26, "titleY": 52, "titleAngle": -90, "titleBaseline": "middle", "titleAlign": "center",
                       "labelExpr": "replace(replace(format(datum.value, '~g'), '.', ','), '−', '-')"}}
      },
      "layer": [
        {"data": {"name": "aa"}, "mark": {"type": "line", "strokeWidth": 1.2},
         "encoding": {"color": {"datum": "Base aislada", "type": "nominal", "scale": {"domain": ["Base aislada", "Base empotrada"], "range": ["#a9cf4f", "#33a874"]}, "legend": {"legendX": 81, "legendY": 128}}}},
        {"data": {"name": "ae"}, "mark": {"type": "line", "strokeWidth": 1.3},
         "encoding": {"color": {"datum": "Base empotrada", "type": "nominal"}}}
      ]
    }
  ], "spacing": 0, "bounds": "flush", "resolve": {"scale": {"color": "independent"}}},
  {"data": {"values": []}, "mark": "point", "width": 1024, "height": 176},
  {"hconcat": [
    {"data": {"values": []}, "mark": "point", "width": 351, "height": 1},
    {
      "width": 346, "height": 105,
      "title": {"text": "Desplazamientos Piso 4", "dx": -21},
      "encoding": {
        "x": {"field": "t", "type": "quantitative", "scale": {"domain": [0, 50], "nice": false, "zero": false},
              "axis": {"values": [0,5,10,15,20,25,30,35,40,45,50], "offset": -52.5, "title": "Tiempo (seg)", "titleY": 61, "titleBaseline": "middle"}},
        "y": {"field": "y", "type": "quantitative", "scale": {"domain": [-0.15, 0.15], "nice": false, "zero": false},
              "axis": {"values": [-0.15,-0.1,-0.05,0,0.05,0.1,0.15], "title": "Aceleración (m)", "titleX": -38, "titleY": 52.5, "titleAngle": -90, "titleBaseline": "middle", "titleAlign": "center",
                       "labelExpr": "replace(replace(format(datum.value, '~g'), '.', ','), '−', '-')"}}
      },
      "layer": [
        {"data": {"name": "da"}, "mark": {"type": "line", "strokeWidth": 1.2, "interpolate": "monotone"},
         "encoding": {"color": {"datum": "Base aislada", "type": "nominal", "scale": {"domain": ["Base aislada", "Base empotrada"], "range": ["#a9cf4f", "#33a874"]}, "legend": {"legendX": 76, "legendY": 129, "symbolSize": 256}}}},
        {"data": {"name": "de"}, "mark": {"type": "line", "strokeWidth": 1.3},
         "encoding": {"color": {"datum": "Base empotrada", "type": "nominal"}}}
      ]
    }
  ], "spacing": 0, "bounds": "flush", "resolve": {"scale": {"color": "independent"}}},
  {"data": {"values": []}, "mark": "point", "width": 1024, "height": 149},
  {"data": {"values": []}, "mark": "point", "width": 1024, "height": 5, "view": {"fill": "#8fc740", "stroke": null}},
  {"data": {"values": []}, "mark": "point", "width": 1024, "height": 39, "view": {"fill": "#5fa235", "stroke": null}}
]
}
